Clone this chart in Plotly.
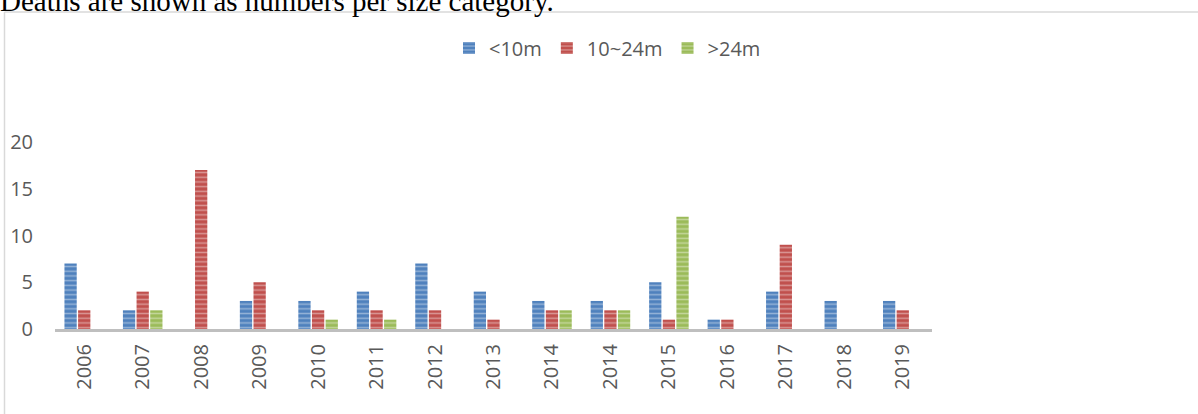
import plotly.graph_objects as go

# Deaths per vessel size category, by year
years = ["2006", "2007", "2008", "2009", "2010", "2011", "2012", "2013",
         "2014", "2014", "2015", "2016", "2017", "2018", "2019"]
under_10m = [7, 2, 0, 3, 3, 4, 7, 4, 3, 3, 5, 1, 4, 3, 3]
from_10_to_24m = [2, 4, 17, 5, 2, 2, 2, 1, 2, 2, 1, 1, 9, 0, 2]
over_24m = [0, 2, 0, 0, 1, 1, 0, 0, 2, 2, 12, 0, 0, 0, 0]

series = [
    ("<10m", under_10m, "#4F81BD"),
    ("10~24m", from_10_to_24m, "#C0504D"),
    (">24m", over_24m, "#9BBB59"),
]

# years repeat, so bars sit on positional slots labelled with the year text
positions = list(range(len(years)))

W, H = 1198, 414
L, R, T, B = 55, 266, 142, 85
plot_w = W - L - R
plot_h = H - T - B


def px_x(x):
    return (x - L) / plot_w


def px_y(y):
    return (H - B - y) / plot_h


fig = go.Figure()
for name, vals, color in series:
    fig.add_trace(go.Bar(
        x=positions, y=vals, name=name,
        marker=dict(
            color=color,
            line=dict(width=0),
            pattern=dict(shape="-", fgcolor="rgba(255,255,255,0.8)",
                         bgcolor=color, size=4.7, solidity=0.32),
        ),
    ))

tick_font = dict(family="Open Sans", size=20, color="#595959")

fig.update_layout(
    width=W, height=H,
    margin=dict(l=L, r=R, t=T, b=B, autoexpand=False),
    paper_bgcolor="white", plot_bgcolor="white",
    barmode="group", bargap=0.30, bargroupgap=0.1,
    showlegend=True,
    legend=dict(orientation="h", x=px_x(449), y=px_y(48),
                xanchor="left", yanchor="middle",
                font=dict(family="Open Sans", size=20, color="#595959"),
                bgcolor="rgba(0,0,0,0)", itemwidth=30),
    xaxis=dict(
        tickmode="array", tickvals=positions, ticktext=years,
        tickangle=-90, tickfont=tick_font,
        showline=True, linecolor="#BFBFBF", linewidth=3,
        showgrid=False, zeroline=False, ticks="",
        ticklabelstandoff=4,
        range=[-0.5, len(years) - 0.5], fixedrange=True,
    ),
    yaxis=dict(
        range=[0, 20], tickvals=[0, 5, 10, 15, 20], tickfont=tick_font,
        showline=False, showgrid=False, zeroline=False, ticks="",
        ticklabelstandoff=21, fixedrange=True,
    ),
    shapes=[
        # chart frame
        dict(type="line", xref="paper", yref="paper",
             x0=px_x(4.5), x1=px_x(W + 20), y0=px_y(12), y1=px_y(12),
             line=dict(color="#D9D9D9", width=1.5)),
        dict(type="line", xref="paper", yref="paper",
             x0=px_x(4.5), x1=px_x(4.5), y0=px_y(12), y1=px_y(H + 20),
             line=dict(color="#D9D9D9", width=1.5)),
    ],
    annotations=[
        dict(text="Deaths are shown as numbers per size category.",
             xref="paper", yref="paper", x=px_x(-2), y=px_y(1),
             xanchor="left", yanchor="middle", showarrow=False,
             font=dict(family="Liberation Serif", size=29, color="black")),
    ],
)

fig.write_html("out.html")
